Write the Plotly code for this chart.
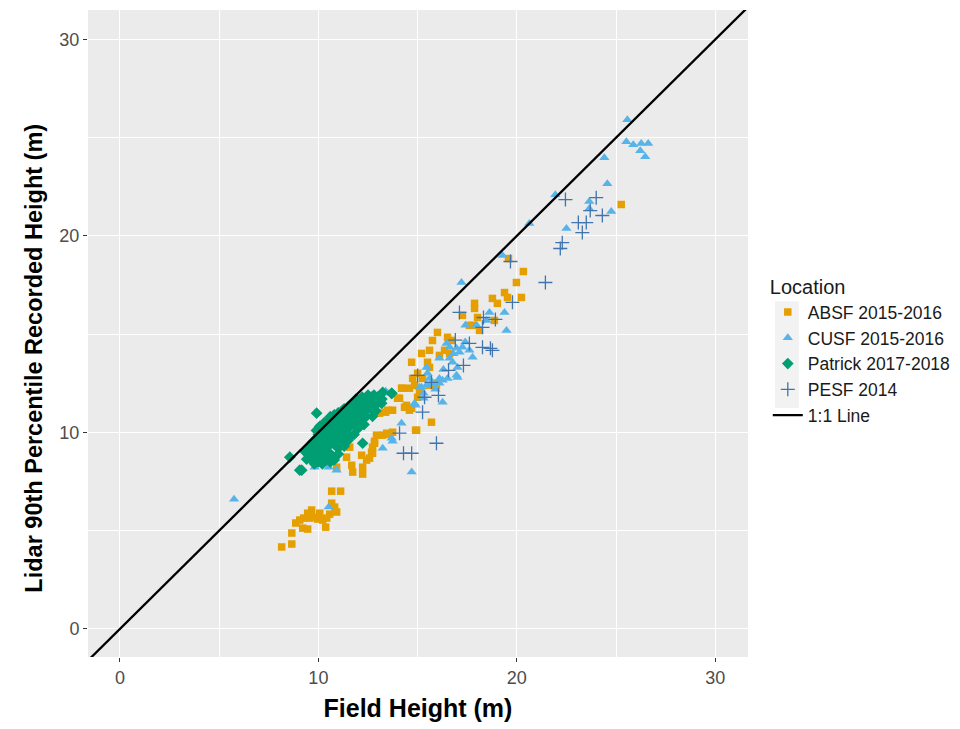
import plotly.graph_objects as go

# ABSF 2015-2016 (orange squares)
absf_x = [8.15, 8.66, 8.66, 8.86, 9.06, 9.21, 9.26, 9.46, 9.46, 9.56, 9.66, 9.81, 9.96, 10.07, 10.22, 10.37, 10.42,
          10.57, 10.82, 10.92, 10.67, 10.67, 11.12,
          10.92, 11.42, 11.58, 11.68, 11.73, 12.18, 12.23, 12.23, 12.43, 12.58, 12.68, 12.73, 12.83, 12.93, 13.24,
          13.59, 13.74, 13.09, 13.39, 13.74, 13.99, 14.19, 14.59, 14.85, 14.70, 14.34, 14.90, 15.70, 15.60, 15.95,
          15.10, 15.25, 14.70,
          25.26, 19.58, 20.33, 19.98, 20.23, 19.38, 19.53, 18.77, 19.02, 17.87, 17.87, 18.02, 17.26, 18.87, 18.12,
          17.61, 17.77, 16.00, 16.51, 16.71, 15.75, 15.60, 16.36, 15.20, 16.61, 16.10, 15.50, 15.60, 15.00, 14.75,
          15.85, 14.24, 15.00, 14.09, 14.44, 13.49, 14.59, 14.95, 13.44, 12.83, 12.73]
absf_y = [4.17, 4.32, 4.88, 5.39, 5.54, 5.13, 5.64, 5.89, 5.08, 5.64, 6.05, 5.69, 5.59, 5.89, 5.54, 5.18, 5.64,
          5.84, 6.20, 5.95, 6.40, 7.01, 7.01,
          8.23, 8.74, 9.25, 8.33, 7.98, 8.84, 8.23, 7.88, 8.59, 8.69, 8.99, 9.25, 9.55, 9.86, 9.86,
          9.91, 10.01, 10.98, 11.03, 11.13, 11.74, 12.25, 12.25, 12.40, 11.23, 11.28, 10.11, 10.52, 12.40, 12.40,
          12.14, 12.75, 13.57,
          21.60, 18.85, 18.19, 17.63, 16.87, 17.12, 16.87, 16.82, 16.57, 16.57, 16.31, 15.85, 15.96, 15.70, 15.19,
          15.45, 15.45, 15.09, 14.84, 14.68, 14.68, 14.18, 14.18, 14.02, 14.02, 13.92, 13.57, 13.31, 13.01, 12.75,
          12.50, 12.25, 11.79, 11.74, 11.38, 11.13, 11.13, 10.11, 9.96, 9.45, 8.94]

# CUSF 2015-2016 (sky-blue triangles)
cusf_x = [5.75, 9.81, 10.52, 10.92, 10.52, 12.28, 13.24, 13.69, 13.74, 14.19, 14.70, 13.39, 13.49, 15.30, 15.50,
          14.90, 15.10, 15.45, 14.85, 16.26, 15.20, 15.70, 15.45, 15.60, 16.10, 16.10, 16.26, 16.51, 16.96, 17.01,
          17.01, 16.76, 16.10, 16.61, 17.77, 17.61, 17.11, 17.26, 16.96, 16.61, 16.46, 17.41, 17.97, 18.47, 19.48,
          18.62, 19.38, 17.21, 19.28, 20.63, 21.94, 22.50, 23.65, 23.65, 24.76, 24.56, 24.41, 25.57, 25.52, 25.87,
          26.27, 26.62, 26.22, 26.47, 16.30, 15.90, 16.80, 17.40, 15.30]
cusf_y = [6.60, 8.23, 8.23, 8.08, 6.20, 10.47, 9.20, 9.70, 9.55, 10.47, 7.98, 12.09, 11.99, 11.74, 13.01,
          11.38, 12.30, 12.40, 11.48, 11.53, 12.30, 12.50, 13.31, 12.75, 12.50, 12.75, 12.65, 12.75, 12.91, 12.80,
          13.31, 13.57, 13.77, 13.77, 13.82, 14.18, 14.08, 14.33, 14.28, 14.33, 14.53, 15.45, 15.45, 15.70, 15.19,
          16.11, 16.11, 17.63, 19.00, 20.63, 22.10, 20.38, 21.75, 21.39, 21.24, 22.66, 23.98, 25.91, 24.80, 24.64,
          24.70, 24.70, 24.34, 24.03, 13.20, 12.20, 14.00, 14.60, 12.00]

# Patrick 2017-2018 (green diamonds)
patrick_x = [9.91, 10.07, 8.56, 9.06, 9.31, 12.23, 13.19, 12.73, 9.16, 9.41, 9.71, 10.17, 13.69, 13.24,
             9.5, 9.5, 9.7, 9.7, 9.7, 9.9, 9.9, 9.9, 9.9, 10.0, 10.0, 10.0, 10.0,
             10.1, 10.1, 10.1, 10.1, 10.1, 10.3, 10.3, 10.3, 10.3, 10.3, 10.3,
             10.4, 10.4, 10.4, 10.4, 10.5, 10.5, 10.5, 10.5, 10.6, 10.6, 10.6, 10.6, 10.6,
             10.8, 10.8, 10.8, 10.8, 10.8, 10.9, 10.9, 10.9, 10.9, 11.0, 11.0, 11.0, 11.0, 11.0,
             11.2, 11.2, 11.2, 11.2, 11.2, 11.3, 11.3, 11.3, 11.3, 11.5, 11.5, 11.5, 11.5,
             11.6, 11.6, 11.6, 11.6, 11.6, 11.8, 11.8, 11.8, 11.8, 11.9, 11.9, 11.9, 11.9,
             12.1, 12.1, 12.1, 12.1, 12.2, 12.2, 12.2, 12.2, 12.4, 12.4, 12.4, 12.4,
             12.5, 12.5, 12.5, 12.7, 12.7, 12.7, 12.8, 12.8, 13.0, 13.0, 13.2, 13.7,
             10.2, 10.4, 10.6, 10.7, 10.8, 11.0, 11.3, 11.5, 11.8, 12.0, 12.3, 9.8, 12.9]
patrick_y = [10.98, 10.31, 8.74, 8.08, 9.04, 9.45, 11.48, 10.82, 8.08, 8.64, 9.35, 10.21, 11.99, 12.04,
             8.9, 9.2, 8.6, 9.1, 9.5, 8.8, 9.3, 9.7, 10.1, 8.5, 9.0, 9.5, 9.9,
             8.9, 9.2, 9.6, 10.0, 10.3, 8.7, 9.1, 9.4, 9.8, 10.2, 10.5,
             9.0, 9.6, 10.0, 10.4, 9.3, 9.7, 10.1, 10.6, 8.9, 9.5, 9.9, 10.3, 10.8,
             9.4, 9.8, 10.2, 10.5, 10.9, 9.6, 10.0, 10.4, 10.7, 9.2, 9.9, 10.3, 10.6, 11.0,
             9.6, 10.1, 10.5, 10.8, 11.1, 10.0, 10.4, 10.7, 11.2, 10.2, 10.6, 10.9, 11.3,
             9.8, 10.5, 10.8, 11.1, 11.4, 10.4, 10.8, 11.1, 11.5, 10.7, 11.0, 11.3, 11.7,
             10.6, 11.0, 11.3, 11.6, 10.9, 11.2, 11.5, 11.8, 10.8, 11.1, 11.4, 11.7,
             11.3, 11.6, 11.9, 11.2, 11.5, 11.8, 11.6, 11.9, 11.5, 11.8, 11.7, 11.99,
             8.4, 8.6, 8.5, 8.8, 8.6, 8.9, 9.3, 9.6, 9.9, 10.2, 10.4, 8.4, 11.1]

# PESF 2014 (blue crosses)
pesf_x = [19.68, 21.44, 19.78, 17.11, 18.32, 18.92, 18.27, 17.61, 18.27, 18.67, 18.77, 17.31, 16.56, 15.70,
          16.05, 15.35, 15.25, 14.09, 15.95, 14.29, 14.70, 22.45, 24.00, 23.70, 24.31, 23.10, 23.50, 23.30,
          22.29, 22.19, 15.00, 16.90]
pesf_y = [18.70, 17.63, 16.62, 16.11, 15.85, 15.75, 15.35, 14.53, 14.33, 14.28, 14.18, 13.41, 13.16, 12.55,
          11.89, 11.79, 11.03, 9.96, 9.45, 8.94, 8.94, 21.85, 21.95, 21.29, 21.04, 20.68, 20.68, 20.17,
          19.66, 19.36, 12.90, 14.70]

# 1:1 line end points
line_vals = [-5, 40]

x_range = [-1.61, 31.65]
y_range = [-1.43, 31.5]
major_ticks = [0, 10, 20, 30]
minor_ticks = [5, 15, 25]

FONT = "Liberation Sans, Arial, sans-serif"

fig = go.Figure()
fig.add_trace(go.Scatter(x=absf_x, y=absf_y, mode="markers", name="ABSF 2015-2016",
                         marker=dict(symbol="square", size=7.5, color="#E69F00", line=dict(width=0))))
fig.add_trace(go.Scatter(x=cusf_x, y=cusf_y, mode="markers", name="CUSF 2015-2016",
                         marker=dict(symbol="triangle-up", size=9, color="#56B4E9", line=dict(width=0))))
fig.add_trace(go.Scatter(x=patrick_x, y=patrick_y, mode="markers", name="Patrick 2017-2018",
                         marker=dict(symbol="diamond", size=9, color="#009E73", line=dict(width=0))))
fig.add_trace(go.Scatter(x=pesf_x, y=pesf_y, mode="markers", name="PESF 2014",
                         marker=dict(symbol="cross-thin", size=10, color="#3F74B0",
                                     line=dict(width=1.3, color="#3F74B0"))))
fig.add_trace(go.Scatter(x=line_vals, y=line_vals, mode="lines", name="1:1 Line",
                         line=dict(color="black", width=2.3)))

axis_common = dict(
    showgrid=True, gridcolor="white", gridwidth=1.3,
    minor=dict(tickvals=minor_ticks, showgrid=True, gridcolor="white", gridwidth=0.6, ticks=""),
    zeroline=False, showline=False,
    ticks="outside", ticklen=4, tickcolor="#333333", tickwidth=1,
    tickfont=dict(family=FONT, size=18, color="#4D4D4D"),
    tickvals=major_ticks,
)

fig.update_xaxes(range=x_range, title=dict(text="<b>Field Height (m)</b>",
                 font=dict(family=FONT, size=25, color="black"), standoff=12), **axis_common)
fig.update_yaxes(range=y_range, **axis_common)

fig.update_layout(
    width=952, height=721,
    margin=dict(l=80, r=212, t=2, b=72, autoexpand=False),
    paper_bgcolor="white", plot_bgcolor="#EBEBEB",
    font=dict(family=FONT, color="#333333"),
    legend=dict(
        title=dict(text="Location", font=dict(family=FONT, size=20, color="#1a1a1a")),
        font=dict(family=FONT, size=17.5, color="#1a1a1a"),
        x=1.03, xanchor="left", y=0.601, yanchor="top",
        bgcolor="rgba(0,0,0,0)", itemwidth=30, tracegroupgap=0,
    ),
    shapes=[dict(type="rect", xref="paper", yref="paper", x0=1.041, x1=1.077, y0=0.385, y1=0.55,
                 fillcolor="#F2F2F2", line=dict(width=0), layer="below")],
    annotations=[dict(text="<b>Lidar 90th Percentile Recorded Height (m)</b>", textangle=-90,
                      xref="paper", yref="paper", x=-0.081, y=0.462, xanchor="center", yanchor="middle",
                      showarrow=False, font=dict(family=FONT, size=23.5, color="black"))],
)

fig.write_html("out.html")
